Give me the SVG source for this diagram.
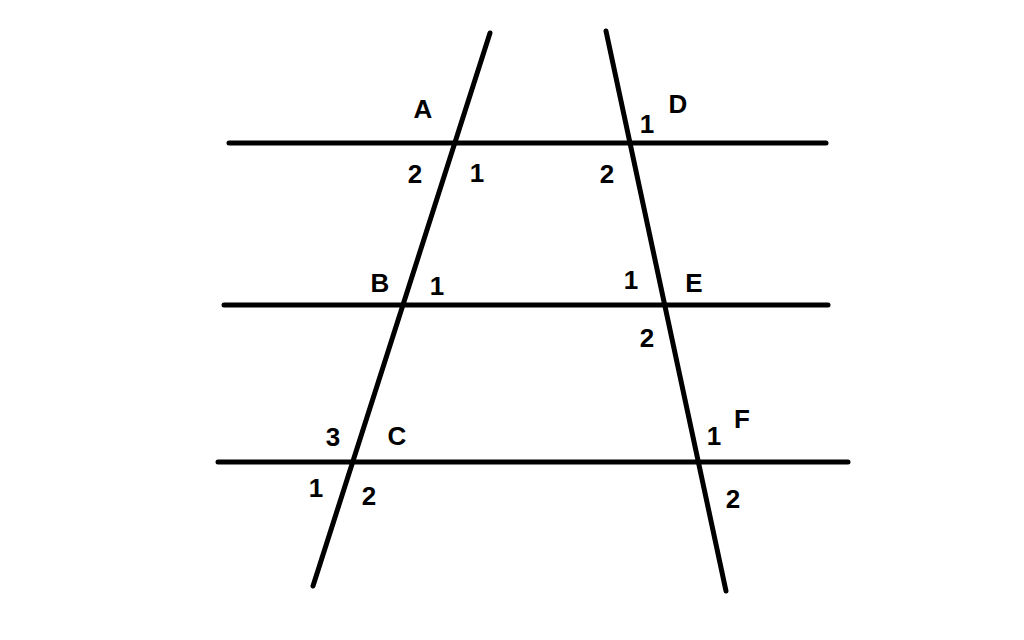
<svg xmlns="http://www.w3.org/2000/svg" width="1024" height="640" viewBox="0 0 1024 640">
<style>
line{stroke:#000;stroke-width:5;stroke-linecap:round}
text{font-family:"Liberation Sans",Arial,sans-serif;font-weight:bold;font-size:26px;fill:#000;text-anchor:middle}
</style>
<rect width="1024" height="640" fill="#fff"/>
<g id="connectors">
<line x1="229" y1="143" x2="826" y2="143"/>
<line x1="224" y1="305" x2="828" y2="305"/>
<line x1="218" y1="462" x2="848" y2="462"/>
<line x1="490" y1="33" x2="313" y2="586"/>
<line x1="606" y1="31" x2="726" y2="591"/>
</g>
<g id="A"><text x="423" y="118">A</text><text x="415" y="183">2</text><text x="477" y="182">1</text></g>
<g id="D"><text x="678" y="113">D</text><text x="647" y="133">1</text><text x="607" y="183">2</text></g>
<g id="B"><text x="380" y="292">B</text><text x="437" y="295">1</text></g>
<g id="E"><text x="694" y="292">E</text><text x="631" y="289">1</text><text x="647" y="347">2</text></g>
<g id="C"><text x="397" y="445">C</text><text x="333" y="446">3</text><text x="316" y="497">1</text><text x="369" y="505">2</text></g>
<g id="F"><text x="742" y="428">F</text><text x="714" y="445">1</text><text x="733" y="508">2</text></g>
</svg>
